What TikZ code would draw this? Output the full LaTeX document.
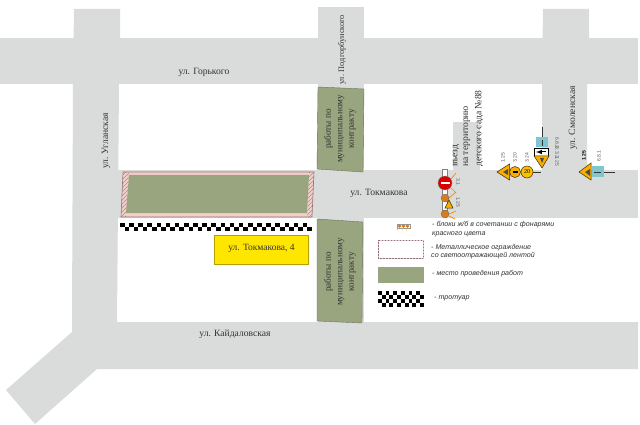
\documentclass[tikz,border=0pt]{standalone}
\usepackage{fontspec}
\setmainfont{Liberation Serif}
\setsansfont{Liberation Sans}
\definecolor{road}{HTML}{DADCDC}
\definecolor{work}{HTML}{98A57F}
\definecolor{yel}{HTML}{FFE600}
\definecolor{signblue}{HTML}{80C6CF}
\definecolor{fence}{HTML}{96727A}
\definecolor{fencepink}{HTML}{F2D0CA}
\definecolor{orng}{HTML}{F5B000}
\definecolor{lamp}{HTML}{D87A20}
\definecolor{txt}{HTML}{333333}
\tikzset{
  roadfill/.style={fill=road,draw=none},
  workfill/.style={fill=work,draw=work!70!black,line width=.4pt},
  lbl/.style={font=\fontsize{9.6}{10}\selectfont,text=txt,inner sep=0pt},
  worklbl/.style={font=\fontsize{9.2}{11.5}\selectfont,text=txt,inner sep=0pt,align=center,rotate=90},
  leg/.style={font=\sffamily\itshape\fontsize{7.1}{8.5}\selectfont,text=txt,inner sep=0pt,align=left,anchor=west},
  signlbl/.style={font=\sffamily\fontsize{5}{5}\selectfont,text=txt!80,inner sep=0pt},
  warn/.style={fill=orng,draw=black!70!orange,line width=.5pt},
  blue/.style={fill=signblue,draw=none},
  post/.style={draw=black!80,line width=.8pt}
}
\newcommand{\checker}[6]{% x y cols rows cell-w cell-h
  \fill[white] (#1,#2) rectangle ++({#3*#5},{#4*#6});
  \foreach \ci in {1,...,#3}{\foreach \cj in {1,...,#4}{
    \pgfmathparse{int(mod(\ci+\cj,2))}
    \ifnum\pgfmathresult=0
      \fill[black] ({#1+(\ci-1)*#5},{#2+(\cj-1)*#6}) rectangle ++(#5,#6);
    \fi}}}
\begin{document}
\begin{tikzpicture}[x=1pt,y=-1pt]
\useasboundingbox (0,0) rectangle (640,425);
\fill[white] (0,0) rectangle (640,425);
% roads
\fill[roadfill] (0,38) rectangle (638,84.5);
\fill[roadfill] (74,9) -- (120,9) -- (120,38) -- (119,84) -- (117,322) -- (72,322) -- (73,84) -- cycle;
\fill[roadfill] (318,7) rectangle (363.5,325);
\fill[roadfill] (117,170) rectangle (638,218);
\fill[roadfill] (543,9) -- (589,9) -- (589,38) -- (587,84) -- (587,170) -- (542,170) -- (542,84) -- cycle;
\fill[roadfill] (453,122) rectangle (480,170);
\fill[roadfill] (6,390) -- (72,332) -- (72,322) -- (638,322) -- (638,369) -- (97,369) -- (35,424) -- cycle;
% works
\fill[workfill] (318,87) -- (364,89) -- (363,172) -- (317,169) -- cycle;
\fill[workfill] (317,219) -- (363,222) -- (362,323) -- (317,321) -- cycle;
% site
\fill[fencepink] (123,172) -- (314,172) -- (312,217) -- (121,217) -- cycle;
\begin{scope}
\clip (123,172) -- (129,172) -- (126,217) -- (121,217) -- cycle;
\foreach \h in {-36,-32,...,12}{\draw[fence!80,line width=.4pt] ({110+\h},220) -- ++(50,-50);}
\end{scope}
\begin{scope}
\clip (309,172) -- (314,172) -- (312,217) -- (307,217) -- cycle;
\foreach \h in {148,152,...,200}{\draw[fence!80,line width=.4pt] ({110+\h},220) -- ++(50,-50);}
\end{scope}
\draw[fence,line width=.6pt] (123,172) -- (314,172) -- (312,217) -- (121,217) -- cycle;
\fill[work] (129,175) -- (309,175) -- (307,213) -- (126,213) -- cycle;
\checker{120}{222.5}{42}{2}{4.57}{4}
\draw[yel!70!black,line width=.4pt,fill=yel] (214,235) rectangle (308,264);
\node[lbl,font=\fontsize{9.5}{10}\selectfont] (addr) at (261.5,248) {ул. Токмакова, 4};
% street labels
\node[lbl] (gorky) at (204,72) {ул. Горького};
\node[lbl,rotate=90] (uglan) at (106,141) {ул. Угланская};
\node[lbl,rotate=90,font=\fontsize{8.3}{9}\selectfont] (podg) at (342,50) {ул. Подгорбунского};
\node[lbl] (tok) at (379,193) {ул. Токмакова};
\node[lbl] (kayd) at (235,334) {ул. Кайдаловская};
\node[lbl,rotate=90] (smol) at (573,118) {ул. Смоленская};
\node[worklbl] (w1) at (340,129) {работы по\\муниципальному\\контракту};
\node[worklbl] (w2) at (340,272) {работы по\\муниципальному\\контракту};
\node[lbl,rotate=90,anchor=west] (e1) at (456,167) {въезд};
\node[lbl,rotate=90,anchor=west] (e2) at (467,167) {на территорию};
\node[lbl,rotate=90,anchor=west] (e3) at (479,167) {детского сада №88};
% barrier with signs
\fill[white] (442,169) rectangle (447,210);
\draw[black!50,line width=.3pt] (442,169) rectangle (447,210);
\draw[orng!80!red,line width=.7pt] (449,198) -- (456,192) (449,214) -- (456,211) (449,216) -- (455,219) (451,179) -- (456,173) (451,188) -- (456,193);
\fill[red!85!black,draw=black!50,line width=.3pt] (445,183) circle (7);
\fill[white] (440.5,181.8) rectangle (449.5,184.2);
\fill[lamp,draw=black!60,line width=.3pt] (445,198) circle (4);
\fill[warn] (445,208) -- (449,200) -- (453,208) -- cycle;
\fill[lamp,draw=black!60,line width=.3pt] (445,214) circle (4);
\node[signlbl,rotate=-90] (s31) at (458,182) {3.1};
\node[signlbl,rotate=-90] (s125) at (458,202) {1.25};
% row of signs
\draw[post] (532,172) -- (541,172);
\fill[warn] (497,172) -- (509.5,164) -- (509.5,180) -- cycle;
\fill[black!70] (503,172) -- (508,169) -- (508,175) -- cycle;
\fill[warn] (515,172) circle (5.5);
\fill[black] (512.5,171) rectangle (517.5,173);
\fill[orng!80!yellow,draw=black!70!orange,line width=.5pt] (527,172) circle (6);
\node[inner sep=0pt,font=\fontsize{6}{6}\selectfont] (s20) at (527,172) {20};
\node[signlbl,rotate=90] (a) at (503,158) {1.25};
\node[signlbl,rotate=90] (b) at (515,158) {3.20};
\node[signlbl,rotate=90] (c) at (527,158) {3.24};
% post near Smolenskaya left
\draw[post] (542,127) -- (542,137);
\fill[blue] (536,137) rectangle (548,147);
\draw[black!80,line width=.6pt] (542,140) -- (542,146);
\fill[white,draw=black,line width=.3pt] (534,148) rectangle (548,156);
\draw[black,line width=1pt,-latex] (546,152) -- (536,152);
\fill[warn] (534,156) -- (549,156) -- (542,168) -- cycle;
\fill[black!70] (540,158) -- (544,158) -- (542,163) -- cycle;
\node[signlbl,rotate=-90] (d) at (557,143) {6.8.2};
\node[signlbl,rotate=-90] (e) at (557,152.5) {8.3.2};
\node[signlbl,rotate=-90] (f) at (557,161) {1.25};
% right post
\draw[post] (604,172) -- (615,172);
\fill[blue] (592,166) rectangle (604,177);
\draw[black!80,line width=.6pt] (594,172) -- (601,172);
\fill[warn] (579,172) -- (591,163) -- (591,180) -- cycle;
\fill[black!70] (585,172) -- (590,169) -- (590,176) -- cycle;
\node[signlbl,rotate=90,font=\sffamily\bfseries\fontsize{5}{5}\selectfont,text=black] (g) at (584,156) {1.25};
\node[signlbl,rotate=90] (h) at (599,156) {6.8.1};
% legend
\fill[white,draw=fence,line width=1.4pt] (378.5,240.5) rectangle (423.5,258.5);
\draw[fence!40,line width=.8pt,dash pattern=on 1.5pt off 1.5pt] (378.5,240.5) rectangle (423.5,258.5);
\fill[white,draw=black!40,line width=.2pt] (397,224) rectangle (410,228);
\fill[lamp] (399.5,226) circle (1.8) (403.5,226) circle (1.8) (407.5,226) circle (1.8);
\draw[orng,line width=.3pt] (398,228) -- (397,231) (402,228) -- (402,231) (406,228) -- (407,231);
\node[leg] (l1) at (432,229) {- блоки ж/б в сочетании с фонарями\\красного цвета};
\node[leg] (l2) at (431,251.5) {- Металлическое ограждение\\со светоотражающей лентой};
\fill[work] (378,267) rectangle (424,283);
\node[leg] (l3) at (432,274) {- место проведения работ};
\checker{378}{291}{12}{4}{3.83}{4}
\node[leg] (l4) at (434,298) {- тротуар};
\end{tikzpicture}
\end{document}
